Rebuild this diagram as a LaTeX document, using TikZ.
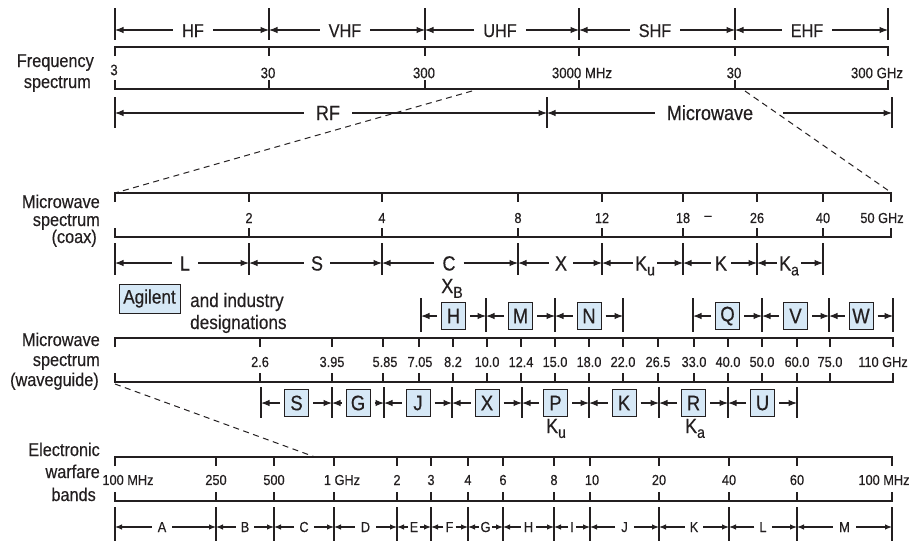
\documentclass[tikz,border=0pt]{standalone}
\usepackage{fontspec}
\setmainfont[FakeStretch=0.88, FakeBold=0.4]{Liberation Sans}
\usetikzlibrary{arrows.meta}
\definecolor{boxfill}{HTML}{D6E8F6}
\definecolor{ink}{HTML}{231F20}
\newcommand\fs[1]{\fontsize{#1}{#1}\selectfont}
\newcommand\mysub[1]{\raisebox{-0.45ex}{\fs{16}#1}}
\tikzset{
  ln/.style={line width=1.1pt, draw=ink},
  arr/.style={ln, -{Latex[length=8.5pt,width=6.5pt]}},
  sarr/.style={ln, -{Latex[length=7pt,width=5.5pt]}},
  lab/.style={inner sep=0pt, font=\fs{18.5}, text=ink},
  blab/.style={inner sep=0pt, font=\fs{20.5}, text=ink},
  num/.style={inner sep=0pt, font=\fs{14.5}, text=ink},
  bignum/.style={inner sep=0pt, font=\fs{15}, text=ink},
  sml/.style={inner sep=0pt, font=\fs{14.5}, text=ink},
  bandbox/.style={draw=ink, line width=1pt, fill=boxfill, minimum width=24pt, minimum height=27pt, inner sep=0pt, font=\fs{21}, text=ink},
  dashln/.style={draw=ink, line width=1pt, dash pattern=on 6pt off 4.5pt},
}
\begin{document}
\begin{tikzpicture}[x=1pt,y=-1pt]
\useasboundingbox (0,0) rectangle (910,541);

% ---------- side labels ----------
\node[lab, anchor=base east] (f1) at (94,67) {Frequency};
\node[lab, anchor=base east] (f2) at (91,88) {spectrum};
\node[lab, anchor=base east] (c1) at (100,208) {Microwave};
\node[lab, anchor=base east] (c2) at (100,226) {spectrum};
\node[lab, anchor=base east] (c3) at (97,243) {(coax)};
\node[lab, anchor=base east] (w1) at (100,346) {Microwave};
\node[lab, anchor=base east] (w2) at (100,366) {spectrum};
\node[lab, anchor=base east] (w3) at (99,386) {(waveguide)};
\node[lab, anchor=base east] (e1) at (100,456) {Electronic};
\node[lab, anchor=base east] (e2) at (100,478) {warfare};
\node[lab, anchor=base east] (e3) at (96,501) {bands};

% ---------- frequency spectrum ----------
\foreach \x [count=\i] in {115,269,425,579,735,888} {\draw[ln] (\x,8) -- (\x,40); \coordinate (hb\i) at (\x,30);}
\foreach \t/\c/\i/\j in {HF/193/1/2, VHF/345/2/3, UHF/500/3/4, SHF/655/4/5, EHF/807/5/6} {
  \node[lab, inner xsep=9pt, anchor=base] (hl\i) at (\c,37) {\t};
  \draw[arr] (hl\i.west |- hb\i) -- (hb\i);
  \draw[arr] (hl\i.east |- hb\j) -- (hb\j);
}
\draw[ln] (115,56) -- (115,47) -- (888,47) -- (888,56);
\draw[ln] (115,80) -- (115,89) -- (888,89) -- (888,80);
\foreach \x in {269,425,579,735} {\draw[ln] (\x,47) -- (\x,56); \draw[ln] (\x,80) -- (\x,89);}
\node[bignum] (fn1) at (114,70) {3};
\foreach \x/\t [count=\i] in {268/30, 424/300, 582/3000 MHz, 734/30, 877/300 GHz} {\node[bignum] (fn\i x) at (\x,73) {\t};}

% RF / Microwave
\foreach \x [count=\i] in {115,547,892} {\draw[ln] (\x,97) -- (\x,128); \coordinate (rb\i) at (\x,113);}
\node[blab, inner xsep=12pt, anchor=base] (rf) at (328,120) {RF};
\draw[arr] (rf.west |- rb1) -- (rb1);
\draw[arr] (rf.east |- rb2) -- (rb2);
\node[blab, anchor=base] (mw) at (710,120) {Microwave};
\coordinate (mwL) at ([xshift=-12pt]mw.west);
\coordinate (mwR) at ([xshift=30pt]mw.east);
\draw[arr] (mwL |- rb2) -- (rb2);
\draw[arr] (mwR |- rb3) -- (rb3);

% ---------- microwave spectrum (coax) ----------
\draw[ln] (115,202) -- (115,193) -- (891,193) -- (891,202);
\draw[ln] (115,228) -- (115,237) -- (891,237) -- (891,228);
\foreach \x in {249,382,518,602,683,757,823} {\draw[ln] (\x,193) -- (\x,202); \draw[ln] (\x,228) -- (\x,237);}
\foreach \x/\t [count=\i] in {249/2, 382/4, 518/8, 602/12, 683/18, 708/–, 757/26, 823/40, 882/50 GHz} {\node[num] (cn\i) at (\x,218) {\t};}

\foreach \x [count=\i] in {115,249,382,518,602,683,757,823} {\draw[ln] (\x,243) -- (\x,275); \coordinate (cb\i) at (\x,263);}
\foreach \t/\c/\g/\i/\j in {L/185/8/1/2, S/317/7/2/3, C/449/8/3/4, X/561/6/4/5, K\mysub{u}/645/2/5/6, K/721/4/6/7, K\mysub{a}/789/2/7/8} {
  \node[blab, inner xsep=\g pt, anchor=base] (cl\i) at (\c,270.5) {\t};
  \draw[arr] (cl\i.west |- cb\i) -- (cb\i);
  \draw[arr] (cl\i.east |- cb\j) -- (cb\j);
}

% ---------- designations ----------
\node[bandbox, minimum width=61pt, minimum height=29pt, font=\fs{19.5}] (ag) at (149.5,298.5) {Agilent};
\node[blab, font=\fs{19.5}, anchor=base west] (ind1) at (190,307) {and industry};
\node[blab, font=\fs{19.5}, anchor=base west] (ind2) at (190,329) {designations};
\node[blab, anchor=base] (xb) at (452,293) {X\mysub{B}};

\foreach \x [count=\i] in {421,486,555,623,693,762,829,893} {\draw[ln] (\x,298) -- (\x,332); \coordinate (ub\i) at (\x,316);}
\foreach \t/\c/\i/\j in {H/453.5/1/2, M/520.5/2/3, N/589/3/4, Q/727.5/5/6, V/795.5/6/7, W/861/7/8} {
  \node[bandbox] (ux\i) at (\c,316) {\t};
  \draw[arr] ([xshift=-4pt]ux\i.west) -- (ub\i);
  \draw[arr] ([xshift=4pt]ux\i.east) -- (ub\j);
}

% ---------- microwave spectrum (waveguide) ----------
\draw[ln] (115,347) -- (115,338) -- (893,338) -- (893,347);
\draw[ln] (115,373) -- (115,382) -- (893,382) -- (893,373);
\foreach \x in {260,332,383,419,453,487,521,555,589,623,658,694,728,762,797,830} {\draw[ln] (\x,338) -- (\x,347); \draw[ln] (\x,373) -- (\x,382);}
\foreach \x/\t [count=\i] in {260/2.6, 332/3.95, 385/5.85, 420/7.05, 453/8.2, 487/10.0, 521/12.4, 555/15.0, 589/18.0, 623/22.0, 658/26.5, 694/33.0, 728/40.0, 762/50.0, 797/60.0, 830/75.0, 883/110 GHz} {\node[num] (wn\i) at (\x,362) {\t};}

\foreach \x [count=\i] in {261,332,384,452,522,589,659,728,797} {\draw[ln] (\x,387) -- (\x,418); \coordinate (lb\i) at (\x,403);}
\foreach \t/\c/\i/\j in {S/296.5/1/2, G/358/2/3, J/418/3/4, X/487/4/5, P/555.5/5/6, K/624/6/7, R/693.5/7/8, U/762.5/8/9} {
  \node[bandbox] (lx\i) at (\c,403) {\t};
  \draw[arr] ([xshift=-4pt]lx\i.west) -- (lb\i);
  \draw[arr] ([xshift=4pt]lx\i.east) -- (lb\j);
}
\node[blab, anchor=base] (ku2) at (556,433) {K\mysub{u}};
\node[blab, anchor=base] (ka2) at (695,433) {K\mysub{a}};

% ---------- electronic warfare bands ----------
\draw[ln] (115,466) -- (115,457) -- (892,457) -- (892,466);
\draw[ln] (115,492) -- (115,501) -- (892,501) -- (892,492);
\foreach \x in {216,274,334,397,431,468,503,554,590,659,729,797} {\draw[ln] (\x,457) -- (\x,466); \draw[ln] (\x,492) -- (\x,501);}
\foreach \x/\t [count=\i] in {128/100 MHz, 216/250, 274/500, 342/1 GHz, 397/2, 431/3, 468/4, 503/6, 554/8, 592/10, 659/20, 729/40, 797/60, 884/100 MHz} {\node[num] (en\i) at (\x,480) {\t};}

\foreach \x [count=\i] in {115,216,274,334,397,431,468,503,554,590,659,729,797,892} {\draw[ln] (\x,507) -- (\x,541); \coordinate (eb\i) at (\x,527);}
\foreach \t/\c/\g/\i/\j in {A/162/6/1/2, B/245/5/2/3, C/304/5/3/4, D/365.5/6/4/5, E/414/1.5/5/6, F/449.5/2/6/7, G/485.5/1.5/7/8, H/528.5/3/8/9, I/572/2/9/10, J/624.5/6/10/11, K/694/5/11/12, L/763/5/12/13, M/844.5/6/13/14} {
  \node[sml, inner xsep=\g pt, anchor=base] (el\i) at (\c,532) {\t};
  \draw[sarr] (el\i.west |- eb\i) -- (eb\i);
  \draw[sarr] (el\i.east |- eb\j) -- (eb\j);
}

% ---------- zoom (dashed) lines ----------
\coordinate (d1a) at (472,91);
\coordinate (d1b) at (115,193);
\coordinate (d2a) at (745,91);
\coordinate (d2b) at (889,191);
\coordinate (d3a) at (115,384);
\coordinate (d3b) at (315,457);
\draw[dashln] (d1a) -- (d1b);
\draw[dashln] (d2a) -- (d2b);
\draw[dashln] (d3a) -- (d3b);
\end{tikzpicture}
\end{document}
